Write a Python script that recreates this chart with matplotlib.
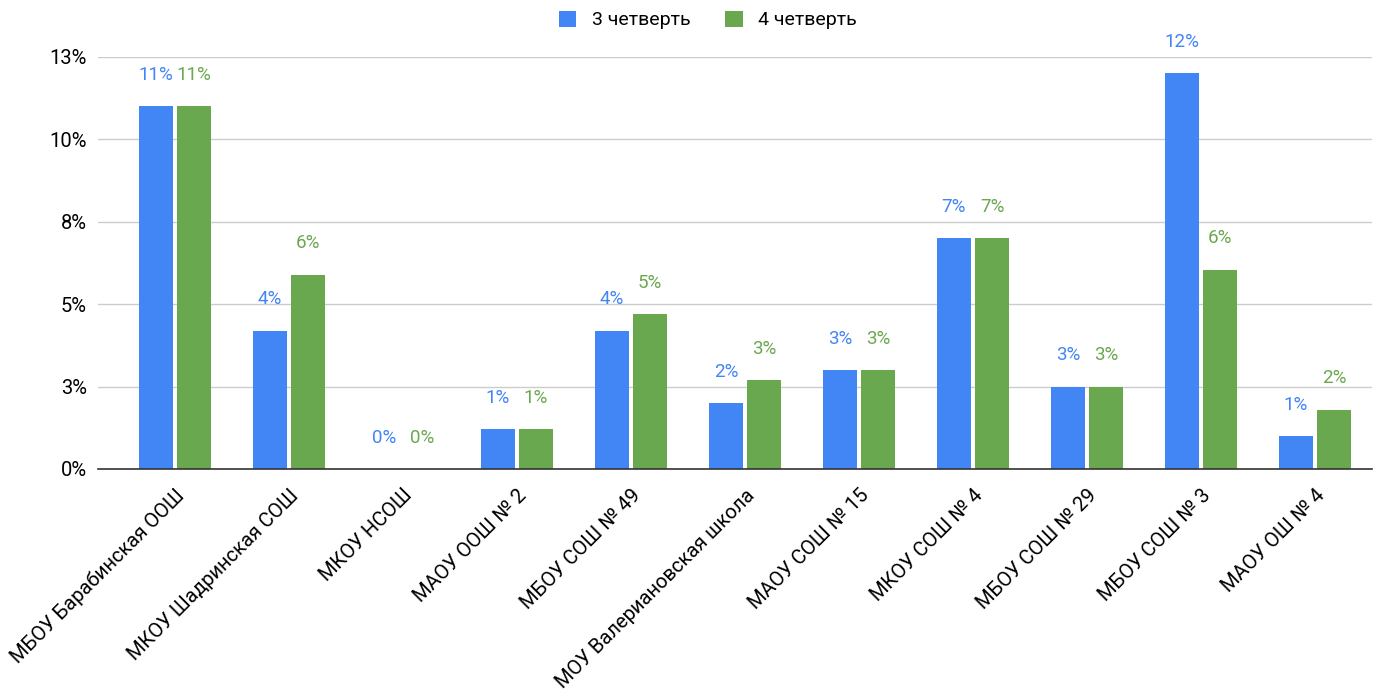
import matplotlib
matplotlib.use("Agg")
import matplotlib.pyplot as plt
import numpy as np
from matplotlib.ticker import FixedLocator, FixedFormatter

plt.rcParams['font.family'] = ['Roboto', 'DejaVu Sans']

categories = ["МБОУ Барабинская ООШ", "МКОУ Шадринская СОШ", "МКОУ НСОШ",
              "МАОУ ООШ № 2", "МБОУ СОШ № 49", "МОУ Валериановская школа",
              "МАОУ СОШ № 15", "МКОУ СОШ № 4", "МБОУ СОШ № 29",
              "МБОУ СОШ № 3", "МАОУ ОШ № 4"]
q3 = [11.0, 4.2, 0.0, 1.2, 4.2, 2.0, 3.0, 7.0, 2.5, 12.0, 1.0]
q4 = [11.0, 5.9, 0.0, 1.2, 4.7, 2.7, 3.0, 7.0, 2.5, 6.05, 1.8]
q3_labels = ["11%", "4%", "0%", "1%", "4%", "2%", "3%", "7%", "3%", "12%", "1%"]
q4_labels = ["11%", "6%", "0%", "1%", "5%", "3%", "3%", "7%", "3%", "6%", "2%"]
yticks = [0, 2.5, 5, 7.5, 10, 12.5]
ytick_labels = ["0%", "3%", "5%", "8%", "10%", "13%"]
series_names = ["3 четверть", "4 четверть"]

blue = "#4285F4"
green = "#6AA84F"

fig = plt.figure(figsize=(13.82, 6.96), dpi=100)
ax = fig.add_axes([98/1382, 227/696, (1372-98)/1382, (469-57)/696])

x = np.arange(len(categories))
w = 0.30
gap = 0.035
b1 = ax.bar(x - w/2 - gap/2, q3, w, color=blue, label=series_names[0], zorder=3)
b2 = ax.bar(x + w/2 + gap/2, q4, w, color=green, label=series_names[1], zorder=3)

for bars, labs, c in [(b1, q3_labels, blue), (b2, q4_labels, green)]:
    for r, lab in zip(bars, labs):
        ax.annotate(lab, (r.get_x() + r.get_width()/2, r.get_height()),
                    xytext=(0, 16), textcoords="offset points",
                    ha="center", va="bottom", color=c, fontsize=13.5)

ax.set_ylim(0, 12.5)
ax.set_xlim(-0.675, 10.5)
ax.yaxis.set_major_locator(FixedLocator(yticks))
ax.yaxis.set_major_formatter(FixedFormatter(ytick_labels))
ax.set_xticks(x)
ax.set_xticklabels(categories, rotation=45, ha="right", va="top",
                   rotation_mode="anchor", fontsize=14.5)
ax.tick_params(axis="x", length=0, pad=12)
ax.tick_params(axis="y", length=0, pad=8, labelsize=14.5)
ax.grid(axis="y", color="#cccccc", linewidth=1, zorder=0)
for s in ["top", "right", "left"]:
    ax.spines[s].set_visible(False)
ax.spines["bottom"].set_color("#333333")
ax.spines["bottom"].set_linewidth(1.2)
ax.spines["bottom"].set_zorder(4)

fig.legend(handles=[b1, b2], labels=series_names, loc="center",
           bbox_to_anchor=(708/1382, 1 - 20/696), ncol=2, frameon=False,
           fontsize=14, handlelength=0.9, handleheight=0.9, columnspacing=1.8,
           handletextpad=0.8)

fig.savefig("out.png", dpi=100)
